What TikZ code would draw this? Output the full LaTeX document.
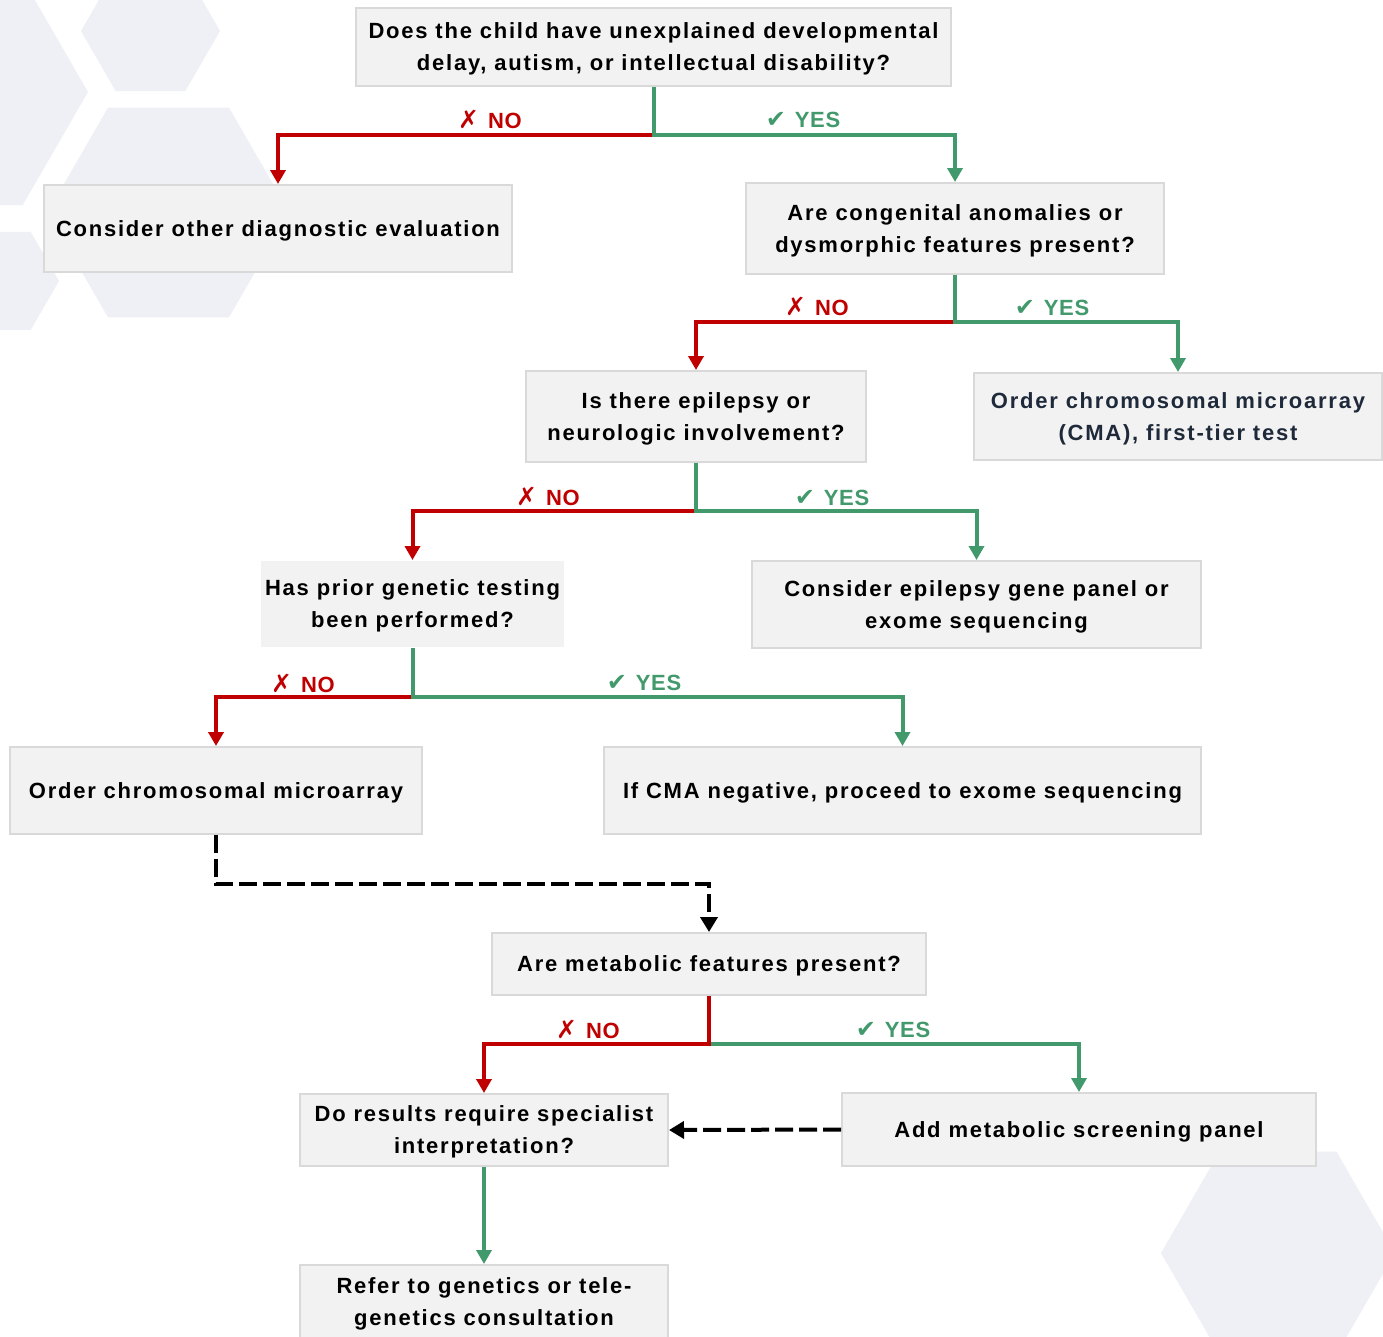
\documentclass[tikz,border=0pt]{standalone}
\usepackage{fontspec}
\setmainfont{Liberation Sans}
\newfontfamily\boxfont{Liberation Sans}[LetterSpace=8]
\newfontfamily\labfont{Liberation Sans}[LetterSpace=3]
\newfontfamily\symf{DejaVu Sans}
\usetikzlibrary{arrows.meta}
\definecolor{nored}{RGB}{192,0,0}
\definecolor{yesgreen}{RGB}{66,153,108}
\definecolor{boxfill}{RGB}{242,242,242}
\definecolor{boxline}{RGB}{217,217,217}
\definecolor{hexfill}{RGB}{239,240,245}
\definecolor{navytext}{RGB}{30,41,58}
\newcommand\hexa[3]{\fill[hexfill] ({#1+#3},#2) -- ({#1+#3/2},{#2+0.866*#3}) -- ({#1-#3/2},{#2+0.866*#3}) -- ({#1-#3},#2) -- ({#1-#3/2},{#2-0.866*#3}) -- ({#1+#3/2},{#2-0.866*#3}) -- cycle;}
\newcommand\nomark{{\symf\fontsize{25}{25}\selectfont ✗}\hspace{9pt}NO}
\newcommand\yesmark{{\symf\fontsize{24}{24}\selectfont ✔}\hspace{9pt}YES}
\tikzset{
  flowbox/.style={draw=boxline, line width=2pt, fill=boxfill, align=center,
    font=\boxfont\bfseries\fontsize{22}{32}\selectfont, inner sep=0pt, text depth=0pt},
  plainbox/.style={flowbox, draw=none},
  noline/.style={draw=nored, line width=4pt, -{Triangle[width=15pt,length=14pt]}},
  yesline/.style={draw=yesgreen, line width=4pt, -{Triangle[width=15pt,length=14pt]}},
  dashline/.style={draw=black, line width=4pt, dash pattern=on 18pt off 6pt, -{Triangle[width=17pt,length=15pt]}},
  nolab/.style={text=nored, font=\labfont\bfseries\fontsize{22}{24}\selectfont, inner sep=0pt},
  yeslab/.style={text=yesgreen, font=\labfont\bfseries\fontsize{22}{24}\selectfont, inner sep=0pt}
}
\begin{document}
\begin{tikzpicture}[x=1pt,y=-1pt]
\useasboundingbox (0,0) rectangle (1383,1336);
\fill[white] (0,0) rectangle (1383,1336);
% background hexagons
\hexa{150.5}{31}{69.5}
\hexa{-42.5}{92}{130.5}
\hexa{168.5}{212.5}{121}
\hexa{2.4}{281}{56.6}
\hexa{1278}{1253}{117}
% boxes
\node[flowbox, minimum width=595pt, minimum height=78pt] (b1) at (653.5,47) {Does the child have unexplained developmental\\delay, autism, or intellectual disability?};
\node[flowbox, minimum width=468pt, minimum height=87pt] (b2) at (278,228.5) {Consider other diagnostic evaluation};
\node[flowbox, minimum width=418pt, minimum height=91pt] (b3) at (955,228.5) {Are congenital anomalies or\\dysmorphic features present?};
\node[flowbox, minimum width=340pt, minimum height=91pt] (b4) at (696,416.5) {Is there epilepsy or\\neurologic involvement?};
\node[flowbox, minimum width=408pt, minimum height=87pt, text=navytext] (b5) at (1178,416.5) {Order chromosomal microarray\\(CMA), first-tier test};
\node[plainbox, minimum width=303pt, minimum height=86pt] (b6) at (412.5,604) {Has prior genetic testing\\been performed?};
\node[flowbox, minimum width=449pt, minimum height=87pt] (b7) at (976.5,604.5) {Consider epilepsy gene panel or\\exome sequencing};
\node[flowbox, minimum width=412pt, minimum height=87pt] (b8) at (216,790.5) {Order chromosomal microarray};
\node[flowbox, minimum width=597pt, minimum height=87pt] (b9) at (902.5,790.5) {If CMA negative, proceed to exome sequencing};
\node[flowbox, minimum width=434pt, minimum height=62pt] (b10) at (709,964) {Are metabolic features present?};
\node[flowbox, minimum width=368pt, minimum height=72pt] (b11) at (484,1130) {Do results require specialist\\interpretation?};
\node[flowbox, minimum width=474pt, minimum height=73pt] (b12) at (1079,1129.5) {Add metabolic screening panel};
\node[flowbox, minimum width=368pt, minimum height=74pt] (b13) at (484,1302) {Refer to genetics or tele-\\genetics consultation};
% junctions
\coordinate (j1) at (b1.south |- 0,135);
\coordinate (j2) at (b3.south |- 0,322);
\coordinate (j3) at (b4.south |- 0,511);
\coordinate (j4) at (b6.south |- 0,697);
\coordinate (j5) at (b10.south |- 0,1044);
\coordinate (d1) at (b8.south |- 0,884);
% connectors
\draw[noline] (j1) -| (b2.north);
\draw[yesline] (b1.south) -- (j1) -| (b3.north);
\draw[noline] (j2) -| (b4.north);
\draw[yesline] (b3.south) -- (j2) -| (b5.north);
\draw[noline] (j3) -| (b6.north);
\draw[yesline] (b4.south) -- (j3) -| (b7.north);
\draw[noline] (j4) -| (b8.north);
\draw[yesline] (b6.south) -- (j4) -| (b9.north);
\draw[yesline] (j5) -| (b12.north);
\draw[noline] (b10.south) -- (j5) -| (b11.north);
\draw[dashline] (b8.south) -- (d1) -| (b10.north);
\draw[dashline] (b12.west) -- (b11.east);
\draw[yesline] (b11.south) -- (b13.north);
% labels
\node[nolab] (l1n) at (490,119) {\nomark};
\node[yeslab] (l1y) at (803,120) {\yesmark};
\node[nolab] (l2n) at (817,306) {\nomark};
\node[yeslab] (l2y) at (1052,308) {\yesmark};
\node[nolab] (l3n) at (548,496) {\nomark};
\node[yeslab] (l3y) at (832,498) {\yesmark};
\node[nolab] (l4n) at (303,683) {\nomark};
\node[yeslab] (l4y) at (644,683) {\yesmark};
\node[nolab] (l5n) at (588,1029) {\nomark};
\node[yeslab] (l5y) at (893,1030) {\yesmark};
\end{tikzpicture}
\end{document}
